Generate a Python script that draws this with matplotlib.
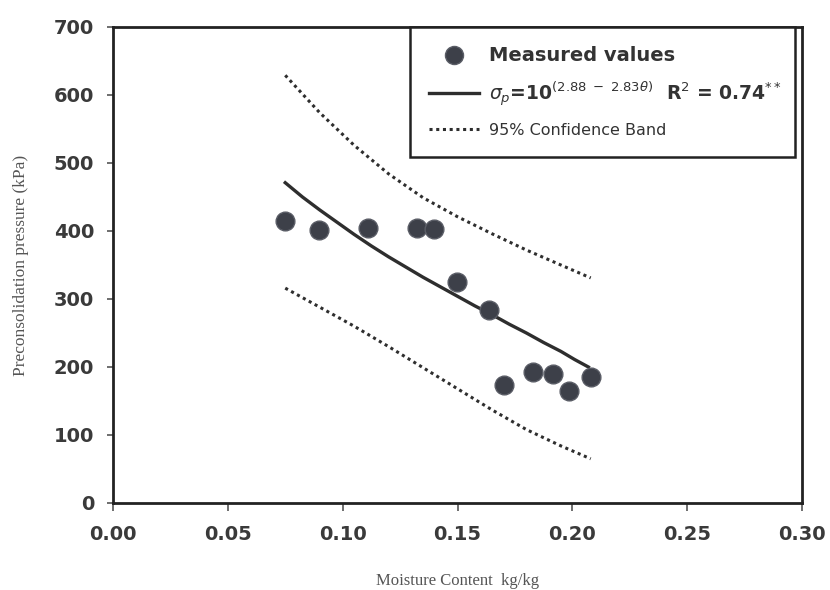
import matplotlib
matplotlib.use("Agg")
import matplotlib.pyplot as plt
from matplotlib.lines import Line2D

# Measured points
moisture = [0.0749, 0.0897, 0.1112, 0.1322, 0.1397, 0.1499, 0.1638, 0.1704, 0.1827, 0.1917, 0.1985, 0.2080]
pressure = [414, 401, 405, 405, 403, 325, 284, 174, 193, 189, 165, 186]

# Fitted curve
fit_x = [0.075, 0.0825, 0.090, 0.0975, 0.105, 0.1125, 0.120, 0.1275, 0.135, 0.1425,
         0.150, 0.1575, 0.165, 0.1725, 0.180, 0.1875, 0.195, 0.201, 0.207]
fit_y = [471, 450, 431, 413, 395, 378, 362, 347, 332, 318,
         304, 290, 277, 263, 250, 236, 223, 211, 200]

# 95% confidence band
band_x = [0.075, 0.090, 0.105, 0.120, 0.135, 0.150, 0.165, 0.180, 0.195, 0.208]
upper_y = [629, 574, 526, 484, 449, 421, 396, 372, 350, 331]
lower_y = [316, 288, 260, 230, 199, 168, 137, 108, 84, 65]

x_ticks = [0.00, 0.05, 0.10, 0.15, 0.20, 0.25, 0.30]
y_ticks = [0, 100, 200, 300, 400, 500, 600, 700]

fig = plt.figure(figsize=(8.3, 5.9), dpi=100)
ax = fig.add_axes([113 / 830, 1 - 503 / 590, (802 - 113) / 830, (503 - 27) / 590])

dark = "#2e2e2e"
ax.plot(band_x, upper_y, linestyle=(0, (1, 1.2)), color=dark, lw=2.2, zorder=2)
ax.plot(band_x, lower_y, linestyle=(0, (1, 1.2)), color=dark, lw=2.2, zorder=2)
ax.plot(fit_x, fit_y, color=dark, lw=2.4, zorder=3, solid_joinstyle="round")
ax.plot(moisture, pressure, linestyle="none", marker="o", markersize=13.5,
        markerfacecolor="#3d4049", markeredgecolor="#5a5d66", markeredgewidth=1.0, zorder=4)

ax.set_xlim(0, 0.30)
ax.set_ylim(0, 700)
ax.set_xticks(x_ticks)
ax.set_yticks(y_ticks)
ax.set_xticklabels([f"{v:.2f}" for v in x_ticks])
ax.set_yticklabels([str(v) for v in y_ticks])

for sp in ax.spines.values():
    sp.set_color("#222222")
    sp.set_linewidth(2.0)

ax.tick_params(axis="x", direction="out", length=6, width=1.2, color="#555555",
               pad=10, labelsize=14, labelcolor="#3a3a3a")
ax.tick_params(axis="y", direction="out", length=4.5, width=1.2, color="#555555",
               pad=9, labelsize=14, labelcolor="#3a3a3a")
for lab in ax.get_xticklabels() + ax.get_yticklabels():
    lab.set_fontweight("bold")

ax.set_xlabel("Moisture Content  kg/kg", family="Liberation Serif", fontsize=12,
              color="#555555", labelpad=21)
ax.set_ylabel("Preconsolidation pressure (kPa)", family="Liberation Serif", fontsize=12.5,
              color="#555555", labelpad=18)

handles = [
    Line2D([], [], linestyle="none", marker="o", markersize=13,
           markerfacecolor="#3d4049", markeredgecolor="#5a5d66"),
    Line2D([], [], color=dark, lw=2.4),
    Line2D([], [], color=dark, lw=2.2, linestyle=(0, (1, 1.2))),
]
labels = [
    "Measured values",
    r"$\sigma_p$=10$^{(2.88\ -\ 2.83\theta)}$  R$^2$ = 0.74$^{**}$",
    "95% Confidence Band",
]
leg = ax.legend(handles, labels, loc="upper left",
                bbox_to_anchor=(0.431, 0.0, 0.559, 1.0), mode="expand",
                borderaxespad=0, borderpad=1.05, labelspacing=0.8,
                handlelength=2.8, handletextpad=0.5, fancybox=False,
                framealpha=1, edgecolor="#222222", fontsize=13)
leg.get_frame().set_linewidth(1.8)
texts = leg.get_texts()
texts[0].set_fontweight("bold"); texts[0].set_fontsize(14); texts[0].set_color("#333333")
texts[1].set_fontweight("bold"); texts[1].set_fontsize(13.5); texts[1].set_color("#333333")
texts[2].set_fontsize(11.5); texts[2].set_color("#333333")

fig.savefig("out.png", dpi=100)
